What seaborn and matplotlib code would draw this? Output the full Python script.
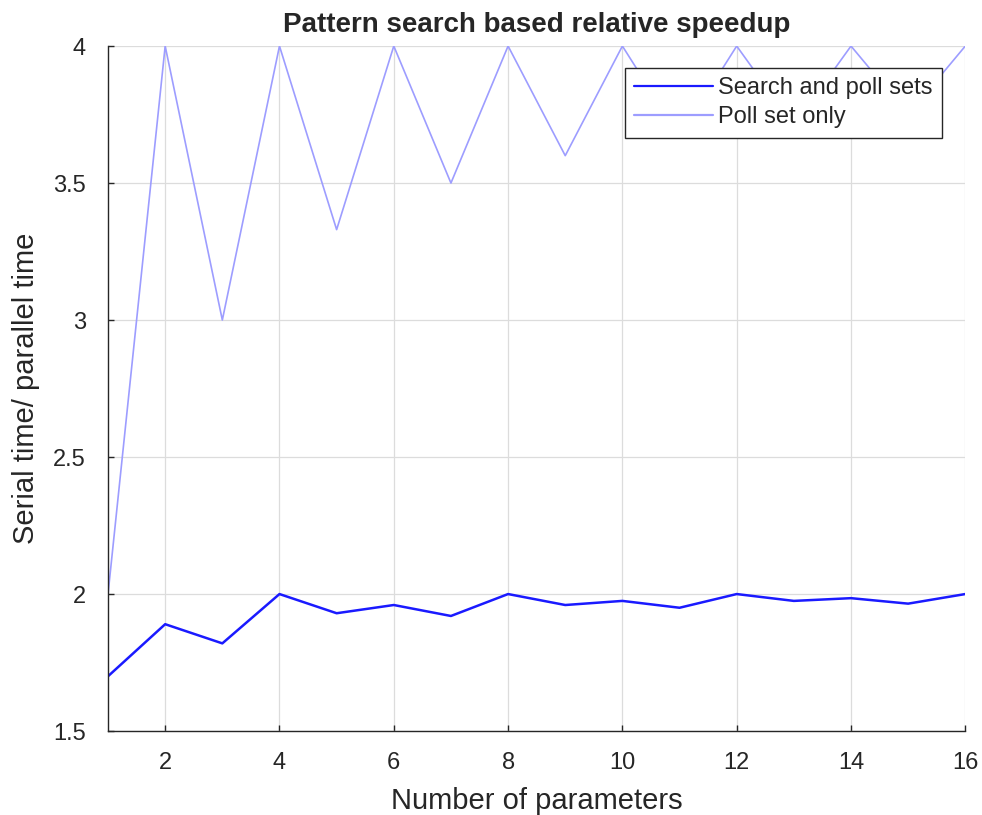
import numpy as np
import pandas as pd
import matplotlib
matplotlib.use("Agg")
import matplotlib.pyplot as plt
import seaborn as sns

# Data
n_params = [1, 2, 3, 4, 5, 6, 7, 8, 9, 10, 11, 12, 13, 14, 15, 16]
search_and_poll = [1.70, 1.89, 1.82, 2.00, 1.93, 1.96, 1.92, 2.00,
                   1.96, 1.975, 1.95, 2.00, 1.975, 1.985, 1.965, 2.00]
poll_only = [2.00, 4.00, 3.00, 4.00, 3.33, 4.00, 3.50, 4.00,
             3.60, 4.00, 3.67, 4.00, 3.71, 4.00, 3.75, 4.00]

df = pd.DataFrame({
    "n": n_params * 2,
    "speedup": search_and_poll + poll_only,
    "series": ["Search and poll sets"] * len(n_params) + ["Poll set only"] * len(n_params),
})

sns.set_style("white")
plt.rcParams["font.family"] = ["Liberation Sans", "DejaVu Sans"]

fig = plt.figure(figsize=(9.82, 8.15), dpi=100)
ax = fig.add_axes([0.110, 0.103, 0.873, 0.8405])

sns.lineplot(data=df, x="n", y="speedup", hue="series",
             palette={"Search and poll sets": "#1a1aff", "Poll set only": "#9d9dff"},
             ax=ax, linewidth=1.6, legend=True)
for line, lw in zip(ax.get_lines(), [1.8, 1.2]):
    line.set_linewidth(lw)

ax.set_xlim(1, 16)
ax.set_ylim(1.5, 4)
ax.set_xticks([2, 4, 6, 8, 10, 12, 14, 16])
ax.set_yticks([1.5, 2, 2.5, 3, 3.5, 4])
ax.set_yticklabels(["1.5", "2", "2.5", "3", "3.5", "4"])
ax.grid(True, color="#dcdcdc", linewidth=0.9)
ax.tick_params(direction="in", length=4, width=1, labelsize=17,
               color="#262626", labelcolor="#262626",
               left=True, bottom=True)
ax.tick_params(axis="y", pad=16)
ax.tick_params(axis="x", pad=15)
for side in ["top", "right"]:
    ax.spines[side].set_visible(False)
for side in ["left", "bottom"]:
    ax.spines[side].set_color("#262626")
    ax.spines[side].set_linewidth(1.0)

ax.set_xlabel("Number of parameters", fontsize=21, color="#262626")
ax.set_ylabel("Serial time/ parallel time", fontsize=21, color="#262626")
ax.xaxis.set_label_coords(0.5, -0.082)
ax.yaxis.set_label_coords(-0.079, 0.5)
ax.set_title("Pattern search based relative speedup", fontsize=20,
             fontweight="bold", pad=10)

handles, labels = ax.get_legend_handles_labels()
leg = ax.legend(handles, labels, loc="upper right", bbox_to_anchor=(0.973, 0.968),
                fontsize=17, frameon=True, fancybox=False, framealpha=1,
                borderpad=0.4, handlelength=3.35, handletextpad=0.2,
                labelspacing=0.3, borderaxespad=0)
leg.get_frame().set_edgecolor("#262626")
leg.get_frame().set_linewidth(1.0)

fig.savefig("out.png", dpi=100)
